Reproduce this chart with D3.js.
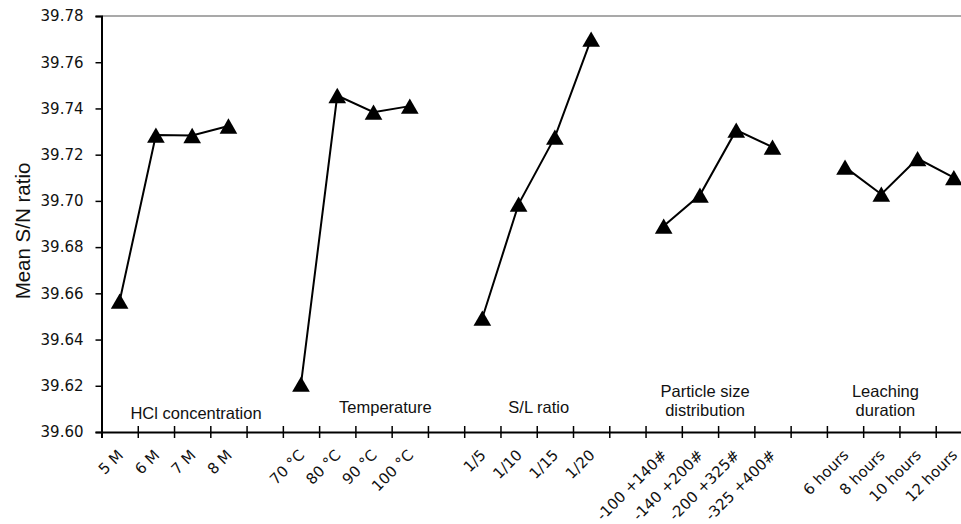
<!DOCTYPE html>
<html>
<head>
<meta charset="utf-8">
<script src="https://cdn.jsdelivr.net/npm/d3@7"></script>
<style>
  body { margin: 0; background: #fff; }
  svg { display: block; }
</style>
</head>
<body>
<div id="chart"></div>
<script>
// factors (group labels) and their levels
var factors = ["HCl concentration", "Temperature", "S/L ratio", "Particle size|distribution", "Leaching|duration"];
var hclLevels = ["5 M", "6 M", "7 M", "8 M"];
var tempLevels = ["70 \u00B0C", "80 \u00B0C", "90 \u00B0C", "100 \u00B0C"];
var slLevels = ["1/5", "1/10", "1/15", "1/20"];
var sizeLevels = ["-100 +140#", "-140 +200#", "-200 +325#", "-325 +400#"];
var timeLevels = ["6 hours", "8 hours", "10 hours", "12 hours"];

// mean S/N ratio per level
var hclSN = [39.6566, 39.7285, 39.7283, 39.7324];
var tempSN = [39.6207, 39.7456, 39.7384, 39.7410];
var slSN = [39.6493, 39.6986, 39.7276, 39.7700];
var sizeSN = [39.6891, 39.7025, 39.7306, 39.7233];
var timeSN = [39.7146, 39.7029, 39.7183, 39.7101];

var yTicks = [39.60, 39.62, 39.64, 39.66, 39.68, 39.70, 39.72, 39.74, 39.76, 39.78];

var levels = [hclLevels, tempLevels, slLevels, sizeLevels, timeLevels];
var means = [hclSN, tempSN, slSN, sizeSN, timeSN];

//Width and height
var w = 961;
var h = 524;
var plotLeft = 101.5;
var plotTop = 16;
var plotBottom = 432;
var slot = 36.27;
var nSlots = 24;

var svg = d3.select("#chart")
    .append("svg")
    .attr("width", w)
    .attr("height", h);

// slot scale: each level takes one slot, a blank slot between factors
var xScale = d3.scaleLinear()
    .domain([0, nSlots])
    .range([plotLeft, plotLeft + nSlots * slot]);

var yScale = d3.scaleLinear()
    .domain([39.60, 39.78])
    .range([plotBottom, plotTop]);

// build points
var groups = means.map(function (vals, g) {
    return vals.map(function (v, i) {
        return { slot: g * 5 + i, value: v, label: levels[g][i] };
    });
});
var allPoints = [].concat.apply([], groups);

// top border
svg.append("line")
    .attr("x1", plotLeft).attr("x2", xScale(nSlots))
    .attr("y1", plotTop).attr("y2", plotTop)
    .attr("stroke", "#555")
    .attr("stroke-width", 1.2);

// Y axis
var yAxis = d3.axisLeft(yScale)
    .tickValues(yTicks)
    .tickFormat(d3.format(".2f"))
    .tickSize(6)
    .tickPadding(12);

var gy = svg.append("g")
    .attr("transform", "translate(" + plotLeft + ",0)")
    .call(yAxis);
gy.select(".domain").attr("stroke", "#000").attr("stroke-width", 2);
gy.selectAll(".tick line").attr("stroke", "#000").attr("stroke-width", 1.5);
gy.selectAll(".tick text")
    .attr("font-family", "DejaVu Sans, Verdana, sans-serif")
    .attr("font-size", 15)
    .attr("fill", "#111");

// X axis with ticks at slot boundaries (crossing the axis line)
var xAxis = d3.axisBottom(xScale)
    .tickValues(d3.range(0, nSlots + 1))
    .tickFormat("")
    .tickSizeOuter(0)
    .tickSize(6);

var gx = svg.append("g")
    .attr("transform", "translate(0," + plotBottom + ")")
    .call(xAxis);
gx.select(".domain").attr("stroke", "#000").attr("stroke-width", 2);
gx.selectAll(".tick line")
    .attr("y1", -6)
    .attr("stroke", "#000")
    .attr("stroke-width", 1.5);

// rotated level labels
svg.selectAll("text.level")
    .data(allPoints)
    .enter()
    .append("text")
    .attr("class", "level")
    .attr("text-anchor", "end")
    .attr("font-family", "DejaVu Sans, Verdana, sans-serif")
    .attr("font-size", 15)
    .attr("fill", "#111")
    .attr("transform", function (d) {
        return "translate(" + (xScale(d.slot + 0.5) + 4.5) + "," + (plotBottom + 24) + ") rotate(-45)";
    })
    .text(function (d) { return d.label; });

// lines per factor
var line = d3.line()
    .x(function (d) { return xScale(d.slot + 0.5); })
    .y(function (d) { return yScale(d.value); });

svg.selectAll("path.factor")
    .data(groups)
    .enter()
    .append("path")
    .attr("class", "factor")
    .attr("d", line)
    .attr("fill", "none")
    .attr("stroke", "#000")
    .attr("stroke-width", 2);

// triangle markers, centred on their box like spreadsheet markers
var boxTriangle = {
    draw: function (context, size) {
        var s = Math.sqrt(size / 0.433);
        var hh = s * 0.866 / 2;
        context.moveTo(0, -hh);
        context.lineTo(s / 2, hh);
        context.lineTo(-s / 2, hh);
        context.closePath();
    }
};
var tri = d3.symbol().type(boxTriangle).size(135);
svg.selectAll("path.marker")
    .data(allPoints)
    .enter()
    .append("path")
    .attr("class", "marker")
    .attr("d", tri)
    .attr("transform", function (d) {
        return "translate(" + xScale(d.slot + 0.5) + "," + yScale(d.value) + ")";
    })
    .attr("fill", "#000");

// factor names inside the plot (hand placed like the original)
var factorDx = [22, 30, 2, -13, -14];
var factorY = [418.5, 413, 413, 396.5, 396.5];
factors.forEach(function (f, g) {
    var cx = xScale(g * 5 + 2) + factorDx[g];
    var t = svg.append("text")
        .attr("text-anchor", "middle")
        .attr("font-family", "Liberation Sans, Arial, sans-serif")
        .attr("font-size", 16.5)
        .attr("fill", "#111");
    f.split("|").forEach(function (part, k) {
        t.append("tspan")
            .attr("x", cx)
            .attr("y", factorY[g] + k * 19.5)
            .text(part);
    });
});

// Y axis title
svg.append("text")
    .attr("transform", "translate(30,231) rotate(-90)")
    .attr("text-anchor", "middle")
    .attr("font-family", "Liberation Sans, Arial, sans-serif")
    .attr("font-size", 20.5)
    .attr("fill", "#111")
    .text("Mean S/N ratio");
</script>
</body>
</html>
